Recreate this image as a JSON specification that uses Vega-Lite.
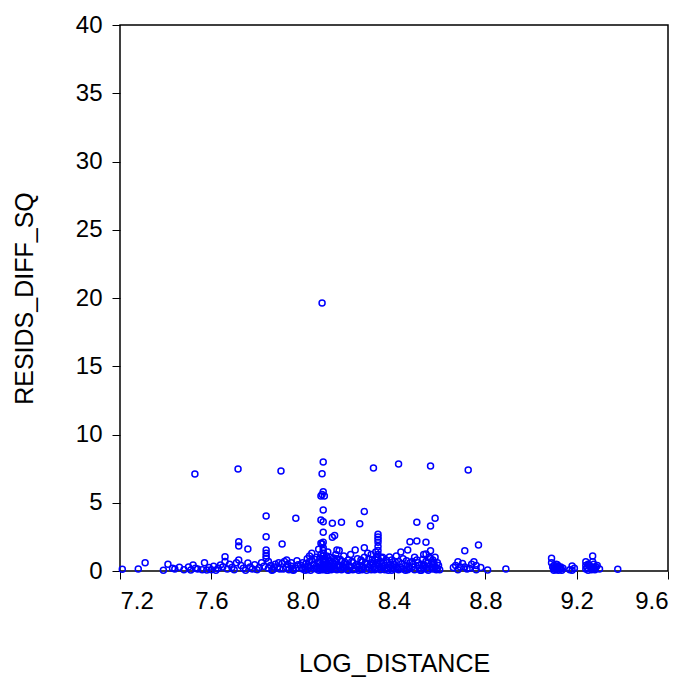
{
  "$schema": "https://vega.github.io/schema/vega-lite/v6.json",
  "autosize": {"type": "none"},
  "width": 548,
  "height": 546,
  "padding": {"left": 120, "top": 25, "right": 23, "bottom": 113},
  "background": "white",
  "config": {
    "view": {"stroke": "black", "strokeWidth": 1.5},
    "font": "Liberation Sans",
    "axis": {"grid": false, "domain": false, "tickColor": "black", "tickWidth": 1, "labelColor": "black", "titleColor": "black", "labelFont": "Liberation Sans", "titleFont": "Liberation Sans", "labelFontSize": 24, "titleFontSize": 25, "titleFontWeight": "normal", "tickSize": 8}
  },
  "data": {"values": [
    {"x":7.21,"y":0.12},{"x":7.28,"y":0.15},{"x":7.31,"y":0.61},{"x":7.39,"y":0.05},{"x":7.41,"y":0.49},{"x":7.43,"y":0.2},{"x":7.44,"y":0.15},{"x":7.46,"y":0.27},{"x":7.48,"y":0.1},{"x":7.5,"y":0.3},
    {"x":7.51,"y":0.07},{"x":7.52,"y":0.44},{"x":7.53,"y":0.2},{"x":7.54,"y":0.15},{"x":7.56,"y":0.1},{"x":7.57,"y":0.61},{"x":7.58,"y":0.07},{"x":7.59,"y":0.25},{"x":7.6,"y":0.1},{"x":7.61,"y":0.35},
    {"x":7.62,"y":0.05},{"x":7.63,"y":0.2},{"x":7.64,"y":0.44},{"x":7.65,"y":0.3},{"x":7.66,"y":1.05},{"x":7.66,"y":0.7},{"x":7.67,"y":0.15},{"x":7.68,"y":0.5},{"x":7.69,"y":0.25},{"x":7.7,"y":0.1},
    {"x":7.71,"y":0.6},{"x":7.72,"y":0.8},{"x":7.72,"y":2.15},{"x":7.72,"y":1.83},{"x":7.73,"y":0.4},{"x":7.74,"y":0.2},{"x":7.75,"y":0.05},{"x":7.76,"y":1.61},{"x":7.76,"y":0.59},{"x":7.77,"y":0.3},
    {"x":7.78,"y":0.15},{"x":7.79,"y":0.45},{"x":7.8,"y":0.1},{"x":7.81,"y":0.25},{"x":7.82,"y":0.6},{"x":7.83,"y":0.35},{"x":7.84,"y":4.03},{"x":7.84,"y":2.51},{"x":7.84,"y":1.54},{"x":7.84,"y":1.3},
    {"x":7.84,"y":0.93},{"x":7.84,"y":1.1},{"x":7.85,"y":0.7},{"x":7.85,"y":0.2},{"x":7.86,"y":0.4},{"x":7.87,"y":0.1},{"x":7.88,"y":0.5},{"x":7.89,"y":0.3},{"x":7.9,"y":0.15},{"x":7.91,"y":1.98},
    {"x":7.91,"y":0.55},{"x":7.92,"y":0.7},{"x":7.93,"y":0.8},{"x":7.93,"y":0.25},{"x":7.94,"y":0.1},{"x":7.95,"y":0.35},{"x":7.96,"y":0.05},{"x":7.97,"y":3.86},{"x":7.97,"y":0.2},{"x":7.98,"y":0.45},
    {"x":7.99,"y":0.44},{"x":8.0,"y":0.15},{"x":8.0,"y":0.6},{"x":8.01,"y":0.3},{"x":8.02,"y":0.9},{"x":8.02,"y":0.1},{"x":8.03,"y":0.7},{"x":8.03,"y":1.1},{"x":8.04,"y":0.8},{"x":8.04,"y":1.3},
    {"x":8.05,"y":0.5},{"x":8.05,"y":0.2},{"x":8.06,"y":1.0},{"x":8.06,"y":0.35},{"x":8.07,"y":1.6},{"x":8.07,"y":0.65},{"x":8.08,"y":3.74},{"x":8.08,"y":2.03},{"x":8.08,"y":1.2},{"x":8.08,"y":0.4},
    {"x":8.08,"y":0.1},{"x":8.085,"y":19.63},{"x":8.09,"y":7.99},{"x":8.085,"y":7.13},{"x":8.09,"y":5.81},{"x":8.085,"y":5.6},{"x":8.08,"y":5.49},{"x":8.095,"y":5.49},{"x":8.09,"y":4.47},{"x":8.09,"y":3.6},
    {"x":8.09,"y":2.83},{"x":8.09,"y":2.1},{"x":8.085,"y":1.98},{"x":8.09,"y":1.7},{"x":8.09,"y":1.5},{"x":8.09,"y":1.3},{"x":8.09,"y":1.1},{"x":8.09,"y":0.9},{"x":8.09,"y":0.7},{"x":8.09,"y":0.5},
    {"x":8.09,"y":0.3},{"x":8.09,"y":0.1},{"x":8.1,"y":0.8},{"x":8.1,"y":0.2},{"x":8.11,"y":1.4},{"x":8.11,"y":0.5},{"x":8.12,"y":0.3},{"x":8.12,"y":1.0},{"x":8.13,"y":3.49},{"x":8.13,"y":2.47},
    {"x":8.13,"y":0.6},{"x":8.14,"y":2.6},{"x":8.14,"y":0.15},{"x":8.15,"y":1.54},{"x":8.15,"y":0.9},{"x":8.16,"y":1.5},{"x":8.16,"y":0.4},{"x":8.17,"y":3.57},{"x":8.17,"y":0.7},{"x":8.18,"y":0.2},
    {"x":8.18,"y":1.1},{"x":8.19,"y":0.5},{"x":8.2,"y":0.05},{"x":8.2,"y":0.8},{"x":8.21,"y":1.2},{"x":8.21,"y":0.3},{"x":8.22,"y":0.6},{"x":8.23,"y":1.54},{"x":8.23,"y":0.15},{"x":8.24,"y":0.9},
    {"x":8.25,"y":3.47},{"x":8.25,"y":0.4},{"x":8.26,"y":0.7},{"x":8.26,"y":0.1},{"x":8.27,"y":4.35},{"x":8.27,"y":1.7},{"x":8.27,"y":1.0},{"x":8.28,"y":0.5},{"x":8.29,"y":0.25},{"x":8.3,"y":1.2},
    {"x":8.3,"y":0.6},{"x":8.31,"y":7.55},{"x":8.31,"y":0.3},{"x":8.32,"y":1.4},{"x":8.32,"y":0.8},{"x":8.33,"y":2.7},{"x":8.33,"y":2.5},{"x":8.33,"y":2.3},{"x":8.33,"y":2.1},{"x":8.33,"y":1.8},
    {"x":8.33,"y":1.5},{"x":8.33,"y":1.2},{"x":8.33,"y":0.9},{"x":8.33,"y":0.5},{"x":8.33,"y":0.2},{"x":8.34,"y":0.7},{"x":8.35,"y":0.35},{"x":8.35,"y":1.0},{"x":8.36,"y":0.1},{"x":8.37,"y":0.6},
    {"x":8.38,"y":1.03},{"x":8.38,"y":0.3},{"x":8.39,"y":0.8},{"x":8.4,"y":0.15},{"x":8.4,"y":0.5},{"x":8.41,"y":1.1},{"x":8.42,"y":7.84},{"x":8.42,"y":0.7},{"x":8.43,"y":1.4},{"x":8.43,"y":0.25},
    {"x":8.44,"y":0.9},{"x":8.45,"y":0.4},{"x":8.46,"y":1.54},{"x":8.46,"y":0.1},{"x":8.47,"y":2.15},{"x":8.47,"y":0.6},{"x":8.48,"y":0.3},{"x":8.49,"y":1.0},{"x":8.5,"y":3.57},{"x":8.5,"y":2.2},
    {"x":8.5,"y":0.8},{"x":8.51,"y":0.2},{"x":8.52,"y":0.5},{"x":8.53,"y":1.2},{"x":8.54,"y":2.1},{"x":8.54,"y":1.25},{"x":8.54,"y":0.7},{"x":8.55,"y":0.35},{"x":8.55,"y":0.05},{"x":8.56,"y":7.69},
    {"x":8.56,"y":3.3},{"x":8.56,"y":1.49},{"x":8.56,"y":0.9},{"x":8.57,"y":0.5},{"x":8.57,"y":0.15},{"x":8.58,"y":3.86},{"x":8.58,"y":1.0},{"x":8.58,"y":0.3},{"x":8.59,"y":0.6},{"x":8.6,"y":0.1},
    {"x":8.66,"y":0.25},{"x":8.67,"y":0.4},{"x":8.68,"y":0.68},{"x":8.68,"y":0.1},{"x":8.69,"y":0.3},{"x":8.7,"y":0.55},{"x":8.71,"y":1.49},{"x":8.71,"y":0.3},{"x":8.72,"y":0.15},{"x":8.725,"y":7.4},
    {"x":8.73,"y":0.2},{"x":8.74,"y":0.5},{"x":8.75,"y":0.68},{"x":8.76,"y":0.4},{"x":8.76,"y":0.1},{"x":8.77,"y":1.9},{"x":8.78,"y":0.25},{"x":8.81,"y":0.07},{"x":8.89,"y":0.15},
    {"x":9.09,"y":0.93},{"x":9.09,"y":0.6},{"x":9.1,"y":0.4},{"x":9.1,"y":0.2},{"x":9.11,"y":0.5},{"x":9.11,"y":0.1},{"x":9.12,"y":0.35},{"x":9.12,"y":0.05},{"x":9.13,"y":0.3},{"x":9.13,"y":0.15},
    {"x":9.14,"y":0.2},{"x":9.1,"y":0.05},{"x":9.11,"y":0.3},{"x":9.17,"y":0.1},{"x":9.18,"y":0.37},{"x":9.19,"y":0.2},{"x":9.18,"y":0.05},{"x":9.24,"y":0.68},{"x":9.24,"y":0.4},{"x":9.24,"y":0.15},
    {"x":9.25,"y":0.5},{"x":9.25,"y":0.05},{"x":9.26,"y":0.3},{"x":9.27,"y":1.1},{"x":9.27,"y":0.68},{"x":9.27,"y":0.3},{"x":9.28,"y":0.2},{"x":9.28,"y":0.1},{"x":9.29,"y":0.4},{"x":9.3,"y":0.15},
    {"x":9.38,"y":0.12},
    {"x":7.528,"y":7.1},{"x":7.717,"y":7.47},{"x":7.905,"y":7.33},
    {"x":7.95,"y":0.6},{"x":8.01,"y":0.05},{"x":8.03,"y":0.25},{"x":8.06,"y":0.15},{"x":8.07,"y":0.05},{"x":8.1,"y":0.45},{"x":8.11,"y":0.05},{"x":8.12,"y":0.7},{"x":8.13,"y":0.2},{"x":8.14,"y":0.5},
    {"x":8.15,"y":0.1},{"x":8.16,"y":0.25},{"x":8.17,"y":0.1},{"x":8.19,"y":0.3},{"x":8.22,"y":0.1},{"x":8.24,"y":0.3},{"x":8.25,"y":0.15},{"x":8.28,"y":0.05},{"x":8.29,"y":0.9},{"x":8.3,"y":0.1},
    {"x":8.31,"y":0.55},{"x":8.32,"y":0.15},{"x":8.34,"y":0.1},{"x":8.36,"y":0.4},{"x":8.37,"y":0.2},{"x":8.39,"y":0.05},{"x":8.41,"y":0.3},{"x":8.42,"y":0.1},{"x":8.44,"y":0.15},{"x":8.45,"y":0.05},
    {"x":8.47,"y":0.2},{"x":8.48,"y":0.7},{"x":8.49,"y":0.1},{"x":8.51,"y":0.4},{"x":8.52,"y":0.05},{"x":8.53,"y":0.2},{"x":8.55,"y":0.6},{"x":8.57,"y":0.8},{"x":8.59,"y":0.2},
    {"x":7.865,"y":0.05},{"x":7.875,"y":0.3},{"x":7.895,"y":0.6},{"x":7.915,"y":0.15},{"x":7.935,"y":0.5},{"x":7.955,"y":0.1},{"x":7.975,"y":0.75},{"x":7.995,"y":0.25},{"x":8.015,"y":0.55},{"x":8.025,"y":0.35},
    {"x":8.035,"y":0.05},{"x":8.045,"y":0.45},{"x":8.055,"y":0.85},{"x":8.065,"y":0.25},{"x":8.075,"y":0.95},{"x":8.075,"y":0.2},{"x":8.095,"y":0.6},{"x":8.095,"y":0.2},{"x":8.105,"y":1.1},{"x":8.105,"y":0.05},
    {"x":8.115,"y":0.8},{"x":8.115,"y":0.25},{"x":8.125,"y":0.55},{"x":8.125,"y":0.1},{"x":8.135,"y":0.95},{"x":8.135,"y":0.35},{"x":8.145,"y":1.2},{"x":8.145,"y":0.7},{"x":8.155,"y":0.45},{"x":8.165,"y":0.85},
    {"x":8.175,"y":0.35},{"x":8.185,"y":0.65},{"x":8.195,"y":0.1},{"x":8.205,"y":0.4},{"x":8.215,"y":0.7},{"x":8.235,"y":0.45},{"x":8.245,"y":0.05},{"x":8.255,"y":0.8},{"x":8.265,"y":0.3},{"x":8.275,"y":0.6},
    {"x":8.285,"y":1.3},{"x":8.295,"y":0.45},{"x":8.305,"y":0.85},{"x":8.315,"y":0.1},{"x":8.325,"y":0.6},{"x":8.325,"y":1.05},{"x":8.335,"y":0.35},{"x":8.345,"y":0.95},{"x":8.345,"y":0.25},{"x":8.355,"y":0.6},
    {"x":8.365,"y":0.8},{"x":8.375,"y":0.05},{"x":8.385,"y":0.5},{"x":8.395,"y":0.3},{"x":8.405,"y":0.7},{"x":8.415,"y":0.2},{"x":8.435,"y":0.55},{"x":8.455,"y":0.75},{"x":8.465,"y":0.3},{"x":8.485,"y":0.5},
    {"x":8.505,"y":0.6},{"x":8.515,"y":0.05},{"x":8.525,"y":0.85},{"x":8.535,"y":0.4},{"x":8.545,"y":0.15},{"x":8.555,"y":1.0},{"x":8.565,"y":0.3},{"x":8.575,"y":0.65},{"x":8.585,"y":0.1},{"x":8.595,"y":0.4},
    {"x":9.095,"y":0.3},{"x":9.105,"y":0.15},{"x":9.115,"y":0.45},{"x":9.125,"y":0.2},{"x":9.135,"y":0.05},{"x":9.245,"y":0.25},{"x":9.255,"y":0.4},{"x":9.265,"y":0.1},{"x":9.275,"y":0.5},{"x":9.285,"y":0.3}
  ]},
  "mark": {"type": "point", "filled": false, "color": "#0000ff", "strokeWidth": 1.5, "size": 36, "opacity": 1},
  "encoding": {
    "x": {"field": "x", "type": "quantitative", "title": "LOG_DISTANCE",
          "scale": {"domain": [7.2, 9.6], "nice": false, "zero": false},
          "axis": {"values": [7.2, 7.6, 8.0, 8.4, 8.8, 9.2, 9.6], "format": ".1f", "labelPadding": 10, "titlePadding": 38}},
    "y": {"field": "y", "type": "quantitative", "title": "RESIDS_DIFF_SQ",
          "scale": {"domain": [0, 40], "nice": false},
          "axis": {"values": [0, 5, 10, 15, 20, 25, 30, 35, 40], "labelPadding": 10, "titlePadding": 38}}
  }
}
